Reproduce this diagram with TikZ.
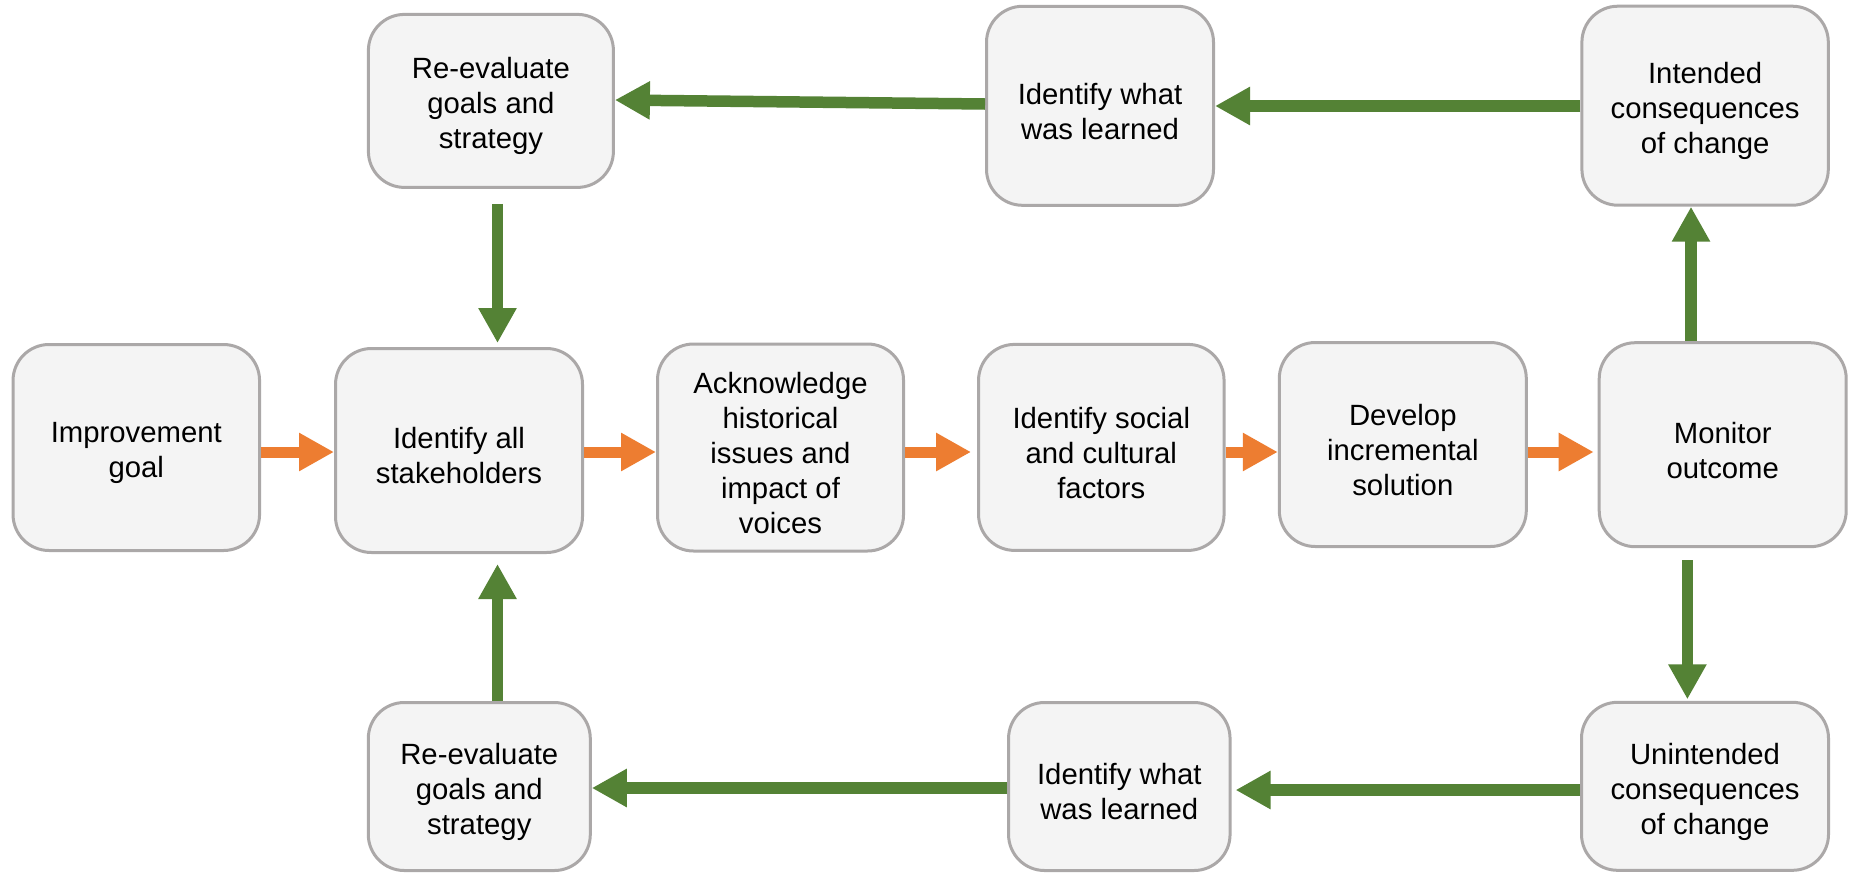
\documentclass[tikz,border=0pt]{standalone}
\usepackage{fontspec}
\setmainfont{Liberation Sans}
\usetikzlibrary{arrows.meta,calc}
\definecolor{boxfill}{HTML}{F4F4F4}
\definecolor{boxline}{HTML}{ABA8A8}
\definecolor{arrgreen}{HTML}{548235}
\definecolor{arrorange}{HTML}{ED7D31}
\begin{document}
\begin{tikzpicture}[x=1pt,y=-1pt,
  stepbox/.style={draw=boxline, line width=3pt, fill=boxfill, rounded corners=36pt, inner sep=0pt},
  steptext/.style={align=center, inner sep=0pt, yshift=-5.5pt, font=\fontsize{29.3}{35}\selectfont},
  orangearrow/.style={draw=arrorange, line width=11pt, -{Triangle[length=35pt,width=36pt]}},
  greenarrow/.style={draw=arrgreen, line width=11.5pt, -{Triangle[length=35pt,width=36pt]}}]
\path[use as bounding box] (0,0) rectangle (1849,873);
\fill[white] (0,0) rectangle (1849,873);

% middle row
\node[stepbox, minimum width=246.5pt, minimum height=206pt, label={[steptext]center:Improvement\\goal}] (imp) at (136.3,447.5) {};
\node[stepbox, minimum width=247pt, minimum height=204pt, label={[steptext]center:Identify all\\stakeholders}] (stake) at (459,450.5) {};
\node[stepbox, minimum width=246pt, minimum height=207pt, label={[steptext]center:Acknowledge\\historical\\issues and\\impact of\\voices}] (ack) at (780.5,447.5) {};
\node[stepbox, minimum width=245.5pt, minimum height=206pt, label={[steptext]center:Identify social\\and cultural\\factors}] (soc) at (1101.3,447.4) {};
\node[stepbox, minimum width=247pt, minimum height=204pt, label={[steptext]center:Develop\\incremental\\solution}] (dev) at (1402.8,444.5) {};
\node[stepbox, minimum width=247pt, minimum height=204pt, label={[steptext]center:Monitor\\outcome}] (mon) at (1722.7,444.7) {};

% top row
\node[stepbox, minimum width=246.4pt, minimum height=199pt, label={[steptext]center:Intended\\consequences\\of change}] (int) at (1705.1,105.7) {};
\node[stepbox, minimum width=227pt, minimum height=199pt, label={[steptext]center:Identify what\\was learned}] (iwwlt) at (1100,105.8) {};
\node[stepbox, minimum width=245pt, minimum height=173pt, label={[steptext]center:Re-evaluate\\goals and\\strategy}] (ret) at (490.9,100.9) {};

% bottom row
\node[stepbox, minimum width=222pt, minimum height=168pt, label={[steptext]center:Re-evaluate\\goals and\\strategy}] (reb) at (479.3,786.5) {};
\node[stepbox, minimum width=221.5pt, minimum height=168pt, label={[steptext]center:Identify what\\was learned}] (iwwlb) at (1119.3,786.5) {};
\node[stepbox, minimum width=247pt, minimum height=168pt, label={[steptext]center:Unintended\\consequences\\of change}] (unint) at (1705,786.3) {};

% guide coordinates
\coordinate (rowmid) at (0,452);
\coordinate (rowtopA) at (0,106);
\coordinate (rowtopB1) at (0,104);
\coordinate (rowtopB2) at (0,100);
\coordinate (rowbotA) at (0,790);
\coordinate (rowbotB) at (0,788);
\coordinate (colL) at (497.5,0);
\coordinate (colRu) at (1691,0);
\coordinate (colRd) at (1687.4,0);

% orange flow
\draw[orangearrow] (imp.east |- rowmid) -- (stake.west |- rowmid);
\draw[orangearrow] (stake.east |- rowmid) -- (ack.west |- rowmid);
\draw[orangearrow, shorten >=6pt] (ack.east |- rowmid) -- (soc.west |- rowmid);
\draw[orangearrow] (soc.east |- rowmid) -- (dev.west |- rowmid);
\draw[orangearrow, shorten >=4pt] (dev.east |- rowmid) -- (mon.west |- rowmid);

% green loops
\draw[greenarrow] (colRu |- mon.north) -- (colRu |- int.south);
\draw[greenarrow] (int.west |- rowtopA) -- (iwwlt.east |- rowtopA);
\draw[greenarrow] (iwwlt.west |- rowtopB1) -- (ret.east |- rowtopB2);
\draw[greenarrow, shorten >=4pt] ($(colL |- ret.south)+(0,15)$) -- (colL |- stake.north);

\draw[greenarrow, shorten >=1.5pt] ($(colRd |- mon.south)+(0,12)$) -- (colRd |- unint.north);
\draw[greenarrow, shorten >=4pt] (unint.west |- rowbotA) -- (iwwlb.east |- rowbotA);
\draw[greenarrow] (iwwlb.west |- rowbotB) -- (reb.east |- rowbotB);
\draw[greenarrow, shorten >=10pt] (colL |- reb.north) -- (colL |- stake.south);
\end{tikzpicture}
\end{document}
